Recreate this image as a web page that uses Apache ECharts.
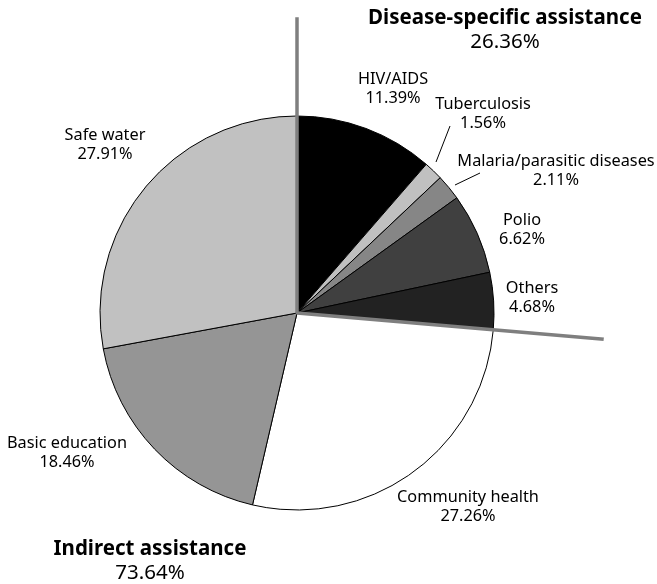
<!DOCTYPE html>
<html><head><meta charset="utf-8">
<script src="https://cdn.jsdelivr.net/npm/echarts@6/dist/echarts.min.js"></script>
<style>html,body{margin:0;padding:0;background:#fff}#c{width:657px;height:584px}</style>
</head><body><div id="c"></div>
<script>
const categories = ["HIV/AIDS","Tuberculosis","Malaria/parasitic diseases","Polio","Others","Community health","Basic education","Safe water"];
const shares = [11.39, 1.56, 2.11, 6.62, 4.68, 27.26, 18.46, 27.91];
const groupNames = ["Disease-specific assistance","Indirect assistance"];
const groupShares = [26.36, 73.64];

const colors = ["#000000","#c0c0c0","#868686","#404040","#222222","#ffffff","#959595","#c1c1c1"];
const labelPos = {
  "HIV/AIDS":[393,89], "Tuberculosis":[483,114], "Malaria/parasitic diseases":[556,171],
  "Polio":[522,230], "Others":[532,298], "Community health":[468,507],
  "Basic education":[67,453], "Safe water":[105,145]
};
const leaderLines = {
  "Tuberculosis":[[436,162],[450,126]],
  "Malaria/parasitic diseases":[[455,185],[480,173]]
};
const FONT = "Noto Sans";
const CX = 297, CY = 313, R = 197;

const chart = echarts.init(document.getElementById('c'), null, {renderer:'canvas'});
chart.setOption({
  animation:false,
  backgroundColor:'#fff',
  title:[
    {text:groupNames[0], subtext:groupShares[0].toFixed(2)+'%', left:500, top:3, textAlign:'center', itemGap:3,
     textStyle:{fontFamily:FONT,fontWeight:'bold',fontSize:20.5,color:'#000'},
     subtextStyle:{fontFamily:FONT,fontSize:20.5,color:'#000'}},
    {text:groupNames[1], subtext:groupShares[1].toFixed(2)+'%', left:145, top:534, textAlign:'center', itemGap:3,
     textStyle:{fontFamily:FONT,fontWeight:'bold',fontSize:20.5,color:'#000'},
     subtextStyle:{fontFamily:FONT,fontSize:20.5,color:'#000'}}
  ],
  polar:{center:[CX,CY], radius:308},
  angleAxis:{type:'value', min:0, max:100, startAngle:90, clockwise:true, show:false},
  radiusAxis:{type:'value', min:0, max:1, show:false},
  series:[
    {
      type:'pie', center:[CX,CY], radius:[0,R], startAngle:90, clockwise:true,
      avoidLabelOverlap:false, minAngle:0, z:2,
      itemStyle:{borderColor:'#000', borderWidth:1},
      label:{show:true, position:'outside', fontFamily:FONT, fontSize:16.3, lineHeight:19.5, color:'#000',
        formatter:p=>p.name+'\n'+p.value.toFixed(2)+'%'},
      labelLine:{show:false, lineStyle:{color:'#000', width:1}},
      labelLayout:function(p){
        const name = categories[p.dataIndex];
        const pos = labelPos[name];
        const o = {x:pos[0], y:pos[1], align:'center', verticalAlign:'middle'};
        if (leaderLines[name]) o.labelLinePoints = leaderLines[name];
        return o;
      },
      data:categories.map((c,i)=>({name:c, value:shares[i], itemStyle:{color:colors[i]},
        labelLine:{show:!!leaderLines[c]}}))
    },
    {
      type:'line', coordinateSystem:'polar', symbol:'none', z:5, silent:true,
      lineStyle:{color:'#7f7f7f', width:3.5},
      data:[[0.96,0],[0,0],[1,groupShares[0]]]
    }
  ]
});
</script></body></html>
